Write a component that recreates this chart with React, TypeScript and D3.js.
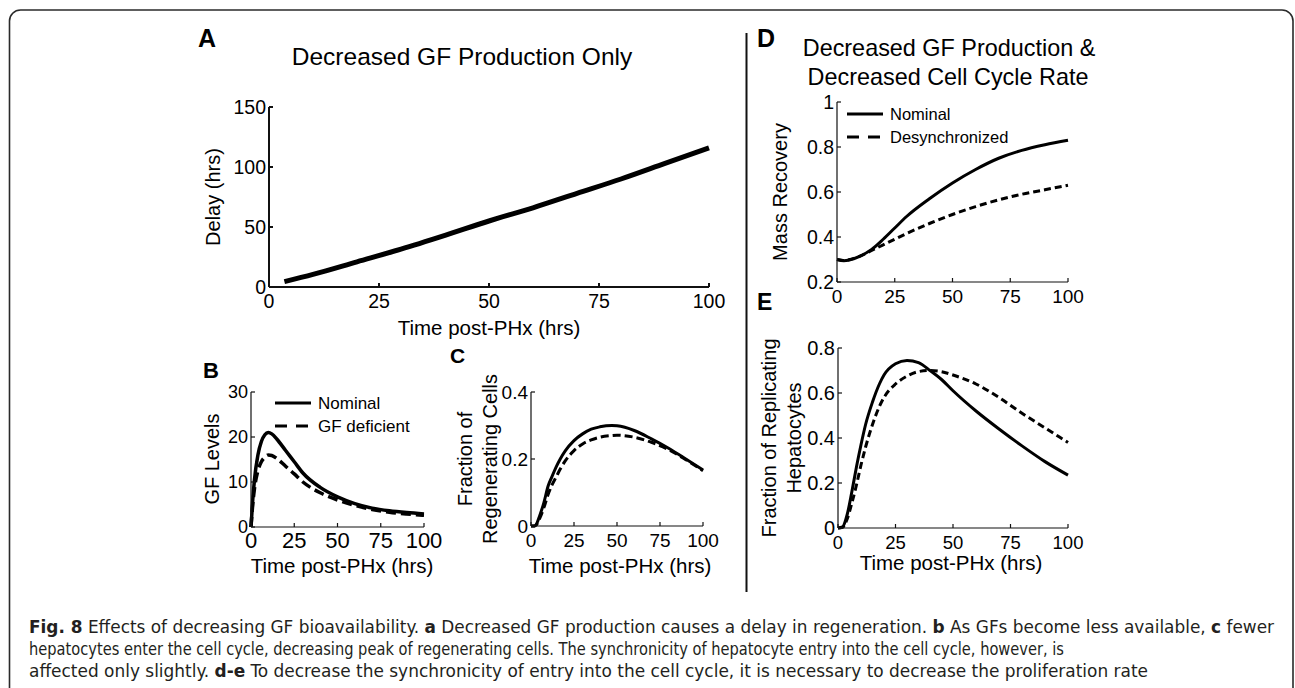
import React from "react";
import * as d3 from "d3";

// ---------- DATA ----------
const X_TICKS = [0, 25, 50, 75, 100];

// Panel A: delay
const A_TIME = [3.5, 10, 20, 30, 40, 50, 60, 70, 80, 90, 100];
const A_DELAY = [4.5, 10.5, 21, 31.5, 43, 55, 66, 78, 90, 103, 116];
const A_Y_TICKS = [0, 50, 100, 150];

// Panel B: GF levels
const B_TIME = [0, 1, 2, 4, 6, 8, 10, 12, 15, 20, 25, 30, 40, 50, 60, 70, 80, 90, 100];
const B_NOMINAL = [0, 6, 10.5, 16, 19, 20.5, 21, 20.7, 19.5, 17, 14.5, 12, 8.8, 6.7, 5.2, 4.2, 3.6, 3.2, 2.9];
const B_DEFICIENT = [0, 5, 8.5, 12.5, 14.5, 15.5, 16, 15.9, 15.2, 13.5, 11.8, 10, 7.6, 6.0, 4.8, 3.9, 3.3, 2.9, 2.6];
const B_Y_TICKS = [0, 10, 20, 30];

// Panel C: fraction of regenerating cells
const C_TIME = [0, 2, 3, 5, 7.5, 10, 12, 15, 17, 20, 25, 30, 35, 40, 47, 50, 60, 70, 80, 90, 100];
const C_NOMINAL = [0, 0, 0.004, 0.03, 0.07, 0.12, 0.145, 0.18, 0.2, 0.225, 0.255, 0.275, 0.289, 0.296, 0.3, 0.299, 0.285, 0.26, 0.232, 0.2, 0.167];
const C_DEFICIENT = [0, 0, 0.003, 0.022, 0.055, 0.095, 0.12, 0.15, 0.17, 0.195, 0.225, 0.245, 0.257, 0.265, 0.27, 0.271, 0.265, 0.25, 0.228, 0.198, 0.165];
const C_Y_TICKS = [0, 0.2, 0.4];

// Panel D: mass recovery
const D_TIME = [0, 3, 5, 10, 15, 20, 25, 30, 40, 50, 60, 70, 80, 90, 100];
const D_NOMINAL = [0.3, 0.295, 0.297, 0.315, 0.345, 0.39, 0.44, 0.49, 0.57, 0.64, 0.7, 0.75, 0.785, 0.81, 0.83];
const D_DESYNC = [0.3, 0.296, 0.299, 0.315, 0.34, 0.365, 0.39, 0.415, 0.46, 0.5, 0.535, 0.565, 0.59, 0.61, 0.63];
const D_Y_TICKS = [0.2, 0.4, 0.6, 0.8, 1];

// Panel E: fraction of replicating hepatocytes
const E_TIME = [0, 2, 4, 6, 8, 10, 12, 15, 18, 20, 25, 30, 35, 40, 45, 50, 60, 70, 80, 90, 100];
const E_NOMINAL = [0, 0.005, 0.06, 0.16, 0.27, 0.37, 0.46, 0.56, 0.64, 0.68, 0.73, 0.745, 0.735, 0.7, 0.66, 0.61, 0.52, 0.44, 0.365, 0.295, 0.235];
const E_DESYNC = [0, 0.003, 0.04, 0.11, 0.19, 0.28, 0.36, 0.46, 0.54, 0.58, 0.64, 0.675, 0.695, 0.7, 0.695, 0.68, 0.64, 0.58, 0.51, 0.445, 0.38];
const E_Y_TICKS = [0, 0.2, 0.4, 0.6, 0.8];

const FONT = "'Liberation Sans', Arial, Helvetica, sans-serif";

type Series = { t: number[]; v: number[]; width: number; dash?: string };

type PanelProps = {
  x0: number; x1: number; yTop: number; yBot: number;
  yDomain: [number, number];
  yTicks: number[];
  series: Series[];
  axisWidth: number;
  xTickFont: number;
  yTickFont: number;
  yFmt?: (v: number) => string;
};

function Panel(p: PanelProps) {
  const x = d3.scaleLinear().domain([0, 100]).range([p.x0, p.x1]);
  const y = d3.scaleLinear().domain(p.yDomain).range([p.yBot, p.yTop]);
  const line = d3
    .line<[number, number]>()
    .x((d) => x(d[0]))
    .y((d) => y(d[1]))
    .curve(d3.curveMonotoneX);
  const fmt = p.yFmt || ((v: number) => String(v));
  const tl = 4;
  return (
    <g>
      {p.series.map((s, i) => (
        <path
          key={i}
          d={line(s.t.map((t, j) => [t, s.v[j]] as [number, number])) || ""}
          fill="none"
          stroke="#000"
          strokeWidth={s.width}
          strokeDasharray={s.dash}
          strokeLinejoin="round"
        />
      ))}
      <line x1={p.x0} x2={p.x0} y1={p.yTop} y2={p.yBot} stroke="#111" strokeWidth={p.axisWidth} />
      <line x1={p.x0} x2={p.x1} y1={p.yBot} y2={p.yBot} stroke="#111" strokeWidth={p.axisWidth} />
      {X_TICKS.map((t) => (
        <g key={"x" + t}>
          <line x1={x(t)} x2={x(t)} y1={p.yBot} y2={p.yBot - tl} stroke="#111" strokeWidth={p.axisWidth} />
          <text x={x(t)} y={p.yBot + 20.5} textAnchor="middle" fontSize={p.xTickFont} fontFamily={FONT}>
            {t}
          </text>
        </g>
      ))}
      {p.yTicks.map((t) => (
        <g key={"y" + t}>
          <line x1={p.x0} x2={p.x0 + tl} y1={y(t)} y2={y(t)} stroke="#111" strokeWidth={p.axisWidth} />
          <text x={p.x0 - 3} y={y(t) + p.yTickFont * 0.36} textAnchor="end" fontSize={p.yTickFont} fontFamily={FONT}>
            {fmt(t)}
          </text>
        </g>
      ))}
    </g>
  );
}

function VLabel({ x, y, lines, size }: { x: number; y: number; lines: string[]; size: number }) {
  return (
    <g transform={`translate(${x},${y}) rotate(-90)`}>
      {lines.map((l, i) => (
        <text key={i} x={0} y={i * 25} textAnchor="middle" fontSize={size} fontFamily={FONT}>
          {l}
        </text>
      ))}
    </g>
  );
}

function Legend({ x, y, size, entries }: { x: number; y: number; size: number; entries: { label: string; dash?: string }[] }) {
  return (
    <g>
      {entries.map((e, i) => (
        <g key={i}>
          <line x1={x} x2={x + 36} y1={y + i * 23} y2={y + i * 23} stroke="#000" strokeWidth={3} strokeDasharray={e.dash} />
          <text x={x + 43} y={y + i * 23 + 5.5} fontSize={size} fontFamily={FONT}>
            {e.label}
          </text>
        </g>
      ))}
    </g>
  );
}

const CAPTION_FONT = "'DejaVu Sans Condensed', 'Liberation Sans Narrow', 'Noto Sans', sans-serif";

export default function App() {
  const dec = (v: number) => (v === 0 ? "0" : v === 1 ? "1" : v.toFixed(1));
  return (
    <svg width={1295} height={688} style={{ position: "absolute", left: 0, top: 0, background: "#fff" }}>
      <rect x={9.5} y={10} width={1283.5} height={720} rx={11} fill="#fff" stroke="#2a2a2a" strokeWidth={1.6} />

      {/* Divider */}
      <line x1={746.5} x2={746.5} y1={33} y2={592} stroke="#111" strokeWidth={2} />

      {/* Panel letters */}
      <text x={198} y={47} fontSize={25} fontWeight="bold" fontFamily={FONT}>A</text>
      <text x={203} y={378} fontSize={22} fontWeight="bold" fontFamily={FONT}>B</text>
      <text x={450} y={363} fontSize={21} fontWeight="bold" fontFamily={FONT}>C</text>
      <text x={757} y={47} fontSize={25} fontWeight="bold" fontFamily={FONT}>D</text>
      <text x={757} y={310} fontSize={23} fontWeight="bold" fontFamily={FONT}>E</text>

      {/* Titles */}
      <text x={462} y={65} textAnchor="middle" fontSize={24.5} fontFamily={FONT}>Decreased GF Production Only</text>
      <text x={949} y={56} textAnchor="middle" fontSize={23.4} fontFamily={FONT}>Decreased GF Production &amp;</text>
      <text x={948} y={85} textAnchor="middle" fontSize={23.4} fontFamily={FONT}>Decreased Cell Cycle Rate</text>

      {/* Panel A */}
      <Panel x0={269} x1={709} yTop={107} yBot={287} yDomain={[0, 150]} yTicks={A_Y_TICKS}
        series={[{ t: A_TIME, v: A_DELAY, width: 5 }]} axisWidth={2} xTickFont={19.5} yTickFont={19.5} />
      <text x={489} y={335} textAnchor="middle" fontSize={20.5} fontFamily={FONT}>Time post-PHx (hrs)</text>
      <VLabel x={220} y={197} lines={["Delay (hrs)"]} size={20} />

      {/* Panel B */}
      <Panel x0={251} x1={424} yTop={392} yBot={527} yDomain={[0, 30]} yTicks={B_Y_TICKS}
        series={[
          { t: B_TIME, v: B_NOMINAL, width: 3.5 },
          { t: B_TIME, v: B_DEFICIENT, width: 3.5, dash: "10,5" },
        ]} axisWidth={1.2} xTickFont={22} yTickFont={18} />
      <text x={342} y={573} textAnchor="middle" fontSize={20.5} fontFamily={FONT}>Time post-PHx (hrs)</text>
      <VLabel x={219} y={459} lines={["GF Levels"]} size={20} />
      <Legend x={275} y={403} size={17} entries={[{ label: "Nominal" }, { label: "GF deficient", dash: "12,9" }]} />

      {/* Panel C */}
      <Panel x0={531} x1={703} yTop={392} yBot={526} yDomain={[0, 0.4]} yTicks={C_Y_TICKS}
        series={[
          { t: C_TIME, v: C_NOMINAL, width: 3 },
          { t: C_TIME, v: C_DEFICIENT, width: 3, dash: "8,4" },
        ]} axisWidth={1.2} xTickFont={19} yTickFont={19} yFmt={dec} />
      <text x={620} y={573} textAnchor="middle" fontSize={20.5} fontFamily={FONT}>Time post-PHx (hrs)</text>
      <VLabel x={472} y={459} lines={["Fraction of", "Regenerating Cells"]} size={20} />

      {/* Panel D */}
      <Panel x0={837} x1={1068} yTop={102} yBot={282} yDomain={[0.2, 1]} yTicks={D_Y_TICKS}
        series={[
          { t: D_TIME, v: D_NOMINAL, width: 3 },
          { t: D_TIME, v: D_DESYNC, width: 3, dash: "7,4" },
        ]} axisWidth={1.2} xTickFont={19} yTickFont={19.5} yFmt={dec} />
      <VLabel x={787} y={192} lines={["Mass Recovery"]} size={20} />
      <Legend x={847} y={114} size={16.5} entries={[{ label: "Nominal" }, { label: "Desynchronized", dash: "12,9" }]} />

      {/* Panel E */}
      <Panel x0={838} x1={1068} yTop={348} yBot={528} yDomain={[0, 0.8]} yTicks={E_Y_TICKS}
        series={[
          { t: E_TIME, v: E_NOMINAL, width: 3 },
          { t: E_TIME, v: E_DESYNC, width: 3, dash: "7,4" },
        ]} axisWidth={1.2} xTickFont={18.5} yTickFont={20} yFmt={dec} />
      <text x={951} y={570} textAnchor="middle" fontSize={20.5} fontFamily={FONT}>Time post-PHx (hrs)</text>
      <VLabel x={776} y={438} lines={["Fraction of Replicating", "Hepatocytes"]} size={20} />

      {/* Caption */}
      <g fill="#231f20" fontFamily={CAPTION_FONT} fontSize={18}>
        <text x={29} y={633} textLength={1245} lengthAdjust="spacingAndGlyphs">
          <tspan fontWeight="bold">Fig. 8</tspan> Effects of decreasing GF bioavailability. <tspan fontWeight="bold">a</tspan> Decreased GF production causes a delay in regeneration. <tspan fontWeight="bold">b</tspan> As GFs become less available, <tspan fontWeight="bold">c</tspan> fewer
        </text>
        <text x={29} y={655} textLength={1035} lengthAdjust="spacingAndGlyphs">
          hepatocytes enter the cell cycle, decreasing peak of regenerating cells. The synchronicity of hepatocyte entry into the cell cycle, however, is
        </text>
        <text x={29} y={677} textLength={1119} lengthAdjust="spacingAndGlyphs">
          affected only slightly. <tspan fontWeight="bold">d-e</tspan> To decrease the synchronicity of entry into the cell cycle, it is necessary to decrease the proliferation rate
        </text>
      </g>
    </svg>
  );
}
